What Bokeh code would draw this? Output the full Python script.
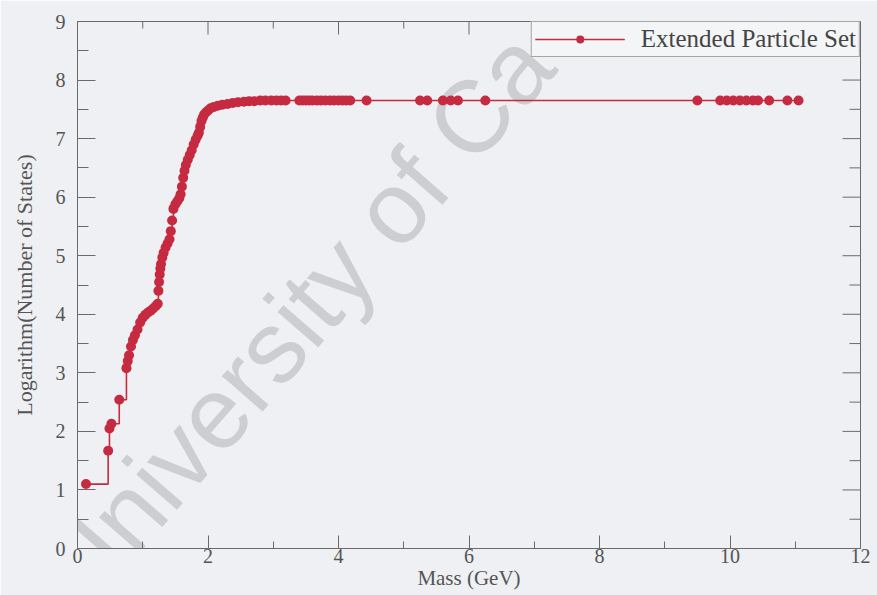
from bokeh.plotting import figure
from bokeh.models import Range1d, SingleIntervalTicker, Label, Legend, LegendItem
from bokeh.embed import file_html
from bokeh.resources import INLINE

# Cumulative hadron spectrum: mass (GeV) and log of the number of states
mass = [
    0.13, 0.47, 0.49, 0.52, 0.64, 0.75, 0.77, 0.79, 0.82, 0.85, 0.88, 0.92,
    0.96, 1.00, 1.04, 1.08, 1.12, 1.16, 1.20, 1.23, 1.24, 1.25, 1.26, 1.27,
    1.28, 1.30, 1.32, 1.35, 1.38, 1.41, 1.43, 1.45, 1.47, 1.50, 1.53, 1.56,
    1.58, 1.60, 1.62, 1.64, 1.66, 1.69, 1.72, 1.75, 1.78, 1.81, 1.84, 1.86,
    1.88, 1.90, 1.92, 1.94, 1.97, 2.00, 2.04, 2.09, 2.15, 2.22, 2.30, 2.38,
    2.46, 2.55, 2.63, 2.71, 2.80, 2.88, 2.97, 3.05, 3.12, 3.19,
    3.40, 3.45, 3.50, 3.55, 3.60, 3.67, 3.73, 3.80, 3.87, 3.93, 4.00, 4.06,
    4.12, 4.18, 4.43,
    5.25, 5.36, 5.60, 5.72, 5.83, 6.25,
    9.50, 9.85, 9.95, 10.05, 10.15, 10.25, 10.35, 10.43, 10.60, 10.88, 11.05,
]
log_states = [
    1.10, 1.67, 2.05, 2.13, 2.54, 3.08, 3.20, 3.30, 3.45, 3.56, 3.64, 3.74,
    3.86, 3.94, 3.99, 4.03, 4.06, 4.10, 4.14, 4.18, 4.40, 4.55, 4.68, 4.78,
    4.86, 4.97, 5.05, 5.14, 5.21, 5.28, 5.42, 5.60, 5.80, 5.88, 5.93, 5.98,
    6.05, 6.18, 6.33, 6.45, 6.55, 6.64, 6.72, 6.80, 6.90, 6.98, 7.05, 7.10,
    7.20, 7.30, 7.36, 7.41, 7.45, 7.48, 7.52, 7.54, 7.56, 7.58, 7.59, 7.61,
    7.62, 7.63, 7.64, 7.64, 7.65, 7.65, 7.65, 7.65, 7.65, 7.65,
    7.65, 7.65, 7.65, 7.65, 7.65, 7.65, 7.65, 7.65, 7.65, 7.65, 7.65, 7.65,
    7.65, 7.65, 7.65,
    7.65, 7.65, 7.65, 7.65, 7.65, 7.65,
    7.65, 7.65, 7.65, 7.65, 7.65, 7.65, 7.65, 7.65, 7.65, 7.65, 7.65,
]

X_MAX, Y_MAX = 12, 9
X_STEP, Y_STEP = 2, 1

RED = "#c62a40"
BG = "#eef0f3"
AXIS = "#6a6a6a"
TXT = "#555555"
SERIF = "Liberation Serif"

p = figure(width=877, height=595, output_backend="svg", toolbar_location=None,
           x_range=Range1d(0, X_MAX), y_range=Range1d(0, Y_MAX),
           min_border_left=77, min_border_right=17, min_border_top=21,
           min_border_bottom=47)
p.background_fill_color = BG
p.border_fill_color = BG
p.outline_line_color = AXIS
p.grid.visible = False

# faint diagonal watermark behind the data
p.add_layout(Label(x=-17, y=-42, x_units="screen", y_units="screen",
                   text="University of Ca", angle=49, angle_units="deg",
                   text_font="Liberation Sans", text_font_size="102px",
                   text_baseline="alphabetic",
                   text_color="#a9abb1", text_alpha=0.5, level="underlay"))

steps = p.step(mass, log_states, mode="after", line_color=RED, line_width=1.6)
dots = p.scatter(mass, log_states, size=10, fill_color=RED, line_color=None)

p.xaxis.ticker = SingleIntervalTicker(interval=X_STEP, num_minor_ticks=2)
p.yaxis.ticker = SingleIntervalTicker(interval=Y_STEP, num_minor_ticks=2)
p.xaxis.axis_label = "Mass (GeV)"
p.yaxis.axis_label = "Logarithm(Number of States)"

for ax in (p.xaxis[0], p.yaxis[0]):
    ax.axis_line_color = AXIS
    ax.major_tick_line_color = AXIS
    ax.minor_tick_line_color = AXIS
    ax.major_tick_out = 0
    ax.minor_tick_out = 0
    ax.major_label_text_font = SERIF
    ax.major_label_text_font_size = "20px"
    ax.major_label_text_color = TXT
    ax.axis_label_text_font = SERIF
    ax.axis_label_text_font_style = "normal"
    ax.axis_label_text_color = TXT

p.xaxis.major_tick_in = 13
p.xaxis.minor_tick_in = 7
p.xaxis.major_label_standoff = 0
p.xaxis.axis_label_standoff = 0
p.xaxis.axis_label_text_font_size = "21px"
p.yaxis.major_tick_in = 18
p.yaxis.minor_tick_in = 11
p.yaxis.major_label_standoff = 12
p.yaxis.axis_label_standoff = 16
p.yaxis.axis_label_text_font_size = "22px"

# mirrored inward tick marks along the top and right edges of the frame
half_x = X_STEP / 2
half_y = Y_STEP / 2
top_major = [i * X_STEP for i in range(X_MAX // X_STEP + 1)]
top_minor = [t + half_x for t in top_major[:-1]]
right_major = [i * Y_STEP for i in range(Y_MAX // Y_STEP + 1)]
right_minor = [t + half_y for t in right_major[:-1]]

p.ray(x=top_major, y=Y_MAX, length=13, length_units="screen", angle=-90,
      angle_units="deg", line_color=AXIS, line_width=1)
p.ray(x=top_minor, y=Y_MAX, length=7, length_units="screen", angle=-90,
      angle_units="deg", line_color=AXIS, line_width=1)
p.ray(x=X_MAX, y=right_major, length=18, length_units="screen", angle=180,
      angle_units="deg", line_color=AXIS, line_width=1)
p.ray(x=X_MAX, y=right_minor, length=11, length_units="screen", angle=180,
      angle_units="deg", line_color=AXIS, line_width=1)

legend = Legend(items=[LegendItem(label="Extended Particle Set",
                                  renderers=[steps, dots])],
                location="top_right", margin=0, padding=3, spacing=0,
                glyph_width=90, label_standoff=16,
                label_text_font=SERIF, label_text_font_size="25px",
                label_text_color="#444444", border_line_color="#555555",
                background_fill_color="#f4f5f7", background_fill_alpha=1.0)
p.add_layout(legend)

open("out.html", "w").write(file_html(p, INLINE))
